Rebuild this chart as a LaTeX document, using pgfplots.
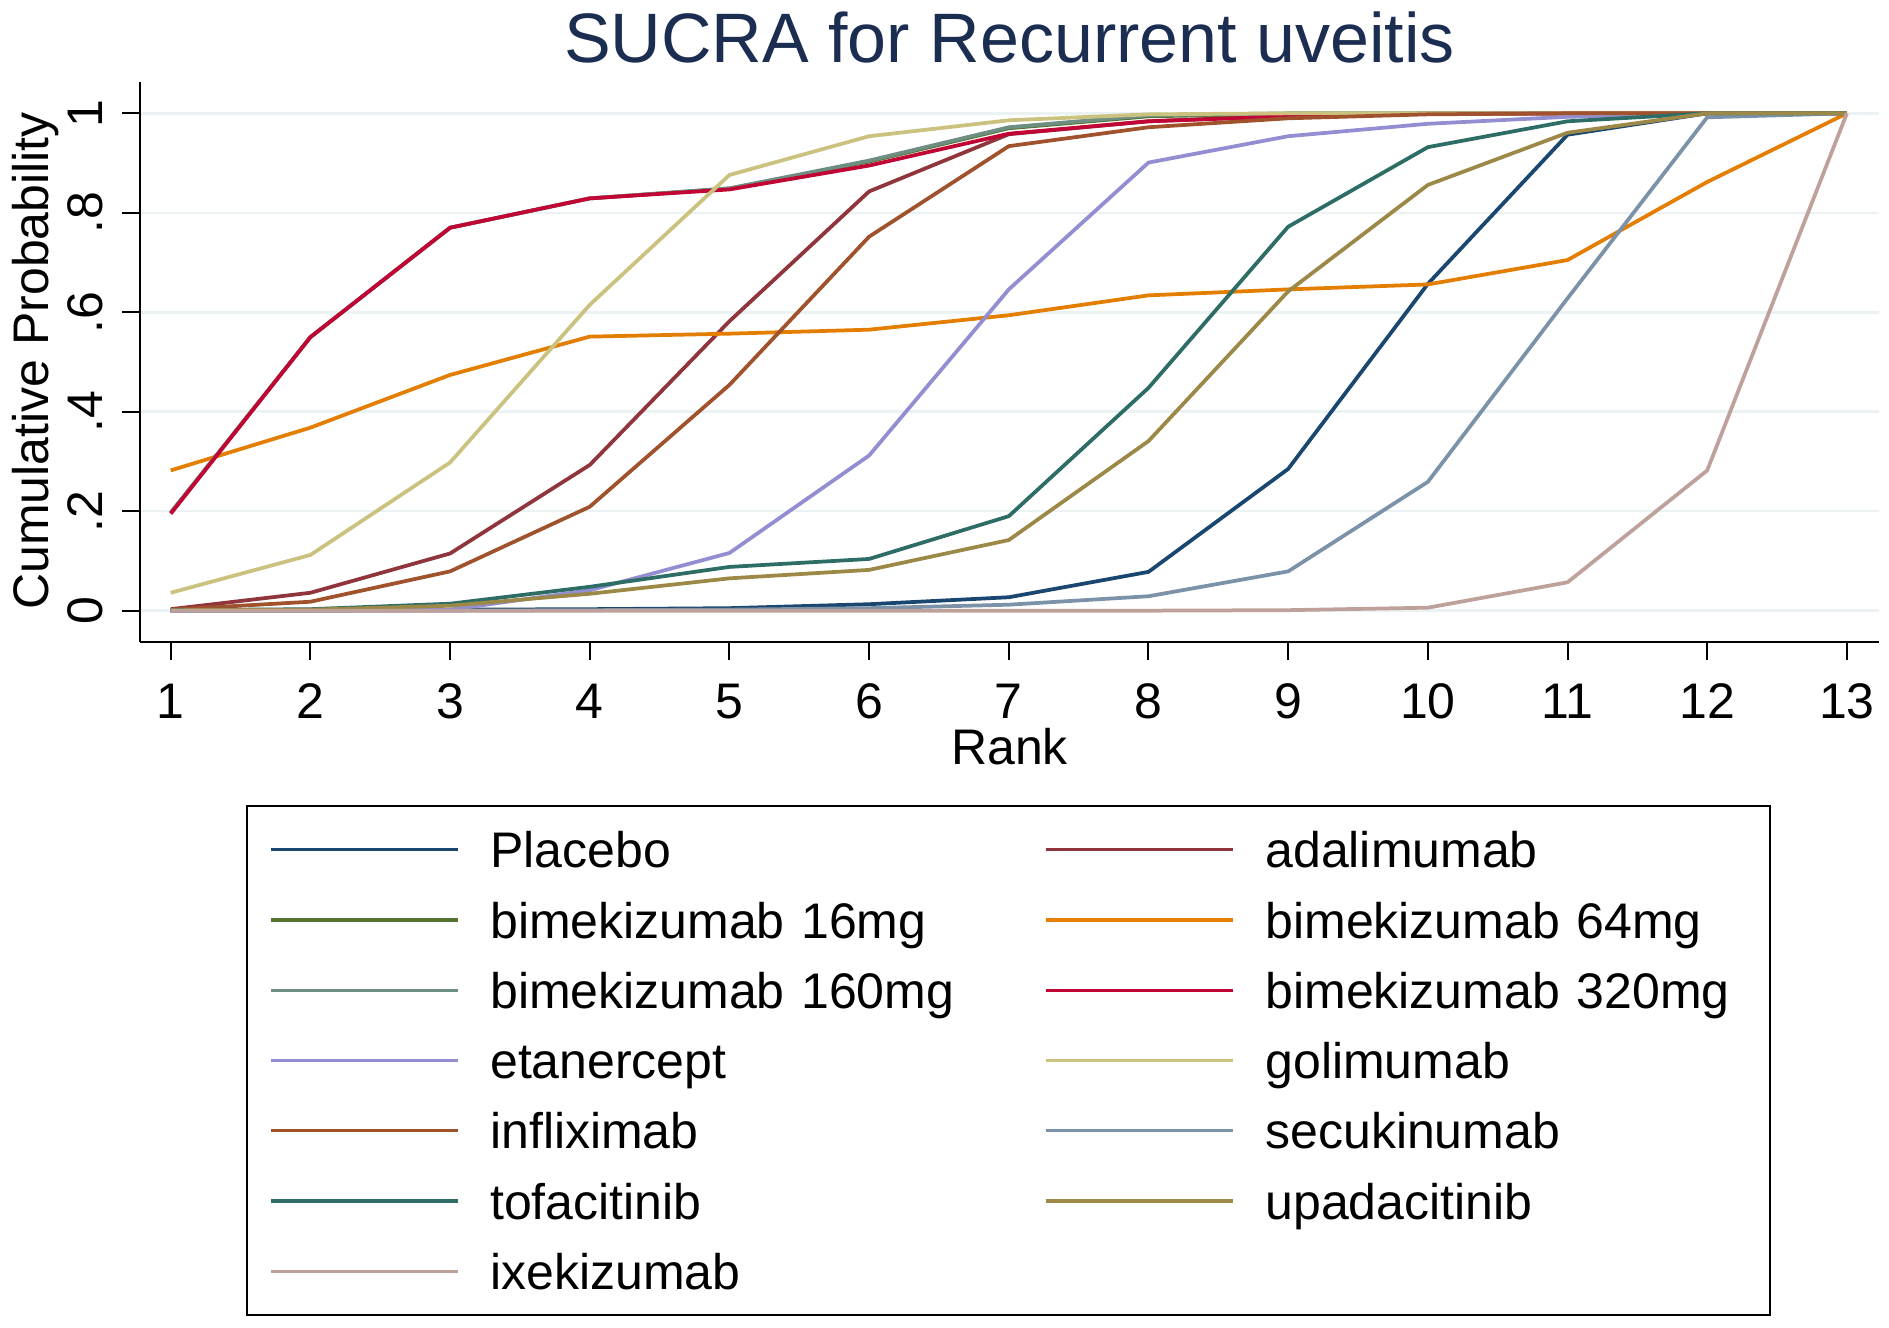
\documentclass[border=0pt]{standalone}
\usepackage{fontspec}
\setmainfont{Liberation Sans}
\usepackage{pgfplots}
\pgfplotsset{compat=1.18}
\definecolor{cnavy}{RGB}{26,71,111}
\definecolor{cmaroon}{RGB}{144,53,59}
\definecolor{cforest}{RGB}{85,117,47}
\definecolor{cdkorange}{RGB}{227,126,0}
\definecolor{cteal}{RGB}{110,142,132}
\definecolor{ccranberry}{RGB}{193,5,52}
\definecolor{clavender}{RGB}{147,141,210}
\definecolor{ckhaki}{RGB}{202,194,126}
\definecolor{csienna}{RGB}{160,82,45}
\definecolor{cemidblue}{RGB}{123,146,168}
\definecolor{cemerald}{RGB}{45,109,102}
\definecolor{cbrown}{RGB}{156,136,71}
\definecolor{cerose}{RGB}{191,161,156}
\definecolor{gridc}{RGB}{234,242,243}
\definecolor{titlec}{RGB}{28,45,82}
\begin{document}
\begin{tikzpicture}
\path[use as bounding box] (0,0) rectangle (755.6pt,530.8pt);
\begin{axis}[
  at={(56pt,274pt)}, anchor=south west,
  scale only axis, width=695.6pt, height=224pt,
  xmin=0.78, xmax=13.23, ymin=-0.063, ymax=1.063,
  axis x line*=bottom, axis y line*=left,
  axis line style={line width=0.8pt, black},
  xtick={1,...,13}, ytick={0,0.2,0.4,0.6,0.8,1},
  yticklabels={0,.2,.4,.6,.8,1},
  tick align=outside, major tick length=7.2pt,
  tick style={line width=0.8pt, black},
  ymajorgrids, grid style={line width=1pt, gridc},
  /pgf/number format/assume math mode=true,
  ticklabel style={font=\fontsize{20}{24}\selectfont},
  xticklabel style={anchor=base, inner sep=0pt, yshift=-23.2pt},
  yticklabel style={rotate=90, anchor=base, inner sep=0pt, yshift=8pt},
  xlabel={Rank}, ylabel={Cumulative Probability},
  label style={font=\fontsize{20}{24}\selectfont},
  xlabel style={at={(axis description cs:0.5,-0.2196)}, anchor=base, inner sep=0pt},
  ylabel style={at={(axis description cs:-0.0529,0.502)}, anchor=base, inner sep=0pt},
  title={SUCRA for Recurrent uveitis},
  title style={at={(axis description cs:0.5,1.0087)}, anchor=base, inner sep=0pt, font=\fontsize{28}{34}\selectfont, text=titlec},
  every axis plot/.append style={line width=1.5pt, no markers},
  legend columns=2,
  legend cell align=left,
  legend image code/.code={\draw[#1, line width=1.3pt] (0pt,0pt) -- (74.8pt,0pt);},
  legend style={at={(axis description cs:0.4994,-0.291)}, anchor=north,
    draw=black, line width=0.8pt, inner xsep=8.8pt, inner ysep=3.5pt,
    font=\fontsize{20}{24}\selectfont,
    nodes={text width=193pt, text height=18.4pt, text depth=4pt, inner ysep=2.85pt, inner xsep=0pt},
    /tikz/every odd column/.append style={column sep=12.4pt},
    /tikz/every even column/.append style={column sep=28.6pt}},
]
\addplot[cnavy] coordinates {(1,0)(2,0)(3,0.002)(4,0.003)(5,0.005)(6,0.013)(7,0.027)(8,0.078)(9,0.285)(10,0.657)(11,0.957)(12,1)(13,1)};
\addlegendentry{Placebo}
\addplot[cmaroon] coordinates {(1,0.003)(2,0.036)(3,0.115)(4,0.293)(5,0.582)(6,0.843)(7,0.958)(8,0.984)(9,0.995)(10,0.999)(11,1)(12,1)(13,1)};
\addlegendentry{adalimumab}
\addplot[cforest] coordinates {(1,0.197)(2,0.55)(3,0.77)(4,0.829)(5,0.849)(6,0.903)(7,0.97)(8,0.994)(9,0.999)(10,1)(11,1)(12,1)(13,1)};
\addlegendentry{bimekizumab 16mg}
\addplot[cdkorange] coordinates {(1,0.282)(2,0.368)(3,0.474)(4,0.551)(5,0.557)(6,0.565)(7,0.594)(8,0.634)(9,0.646)(10,0.656)(11,0.705)(12,0.862)(13,1)};
\addlegendentry{bimekizumab 64mg}
\addplot[cteal] coordinates {(1,0.197)(2,0.55)(3,0.77)(4,0.829)(5,0.849)(6,0.905)(7,0.972)(8,0.996)(9,1)(10,1)(11,1)(12,1)(13,1)};
\addlegendentry{bimekizumab 160mg}
\addplot[ccranberry] coordinates {(1,0.195)(2,0.55)(3,0.77)(4,0.829)(5,0.847)(6,0.895)(7,0.959)(8,0.984)(9,0.994)(10,0.999)(11,1)(12,1)(13,1)};
\addlegendentry{bimekizumab 320mg}
\addplot[clavender] coordinates {(1,0)(2,0)(3,0.002)(4,0.041)(5,0.116)(6,0.312)(7,0.646)(8,0.901)(9,0.954)(10,0.979)(11,0.993)(12,1)(13,1)};
\addlegendentry{etanercept}
\addplot[ckhaki] coordinates {(1,0.036)(2,0.112)(3,0.298)(4,0.615)(5,0.876)(6,0.954)(7,0.986)(8,0.998)(9,1)(10,1)(11,1)(12,1)(13,1)};
\addlegendentry{golimumab}
\addplot[csienna] coordinates {(1,0.002)(2,0.018)(3,0.079)(4,0.209)(5,0.454)(6,0.752)(7,0.934)(8,0.972)(9,0.99)(10,0.998)(11,1)(12,1)(13,1)};
\addlegendentry{infliximab}
\addplot[cemidblue] coordinates {(1,0)(2,0)(3,0)(4,0.001)(5,0.002)(6,0.005)(7,0.012)(8,0.029)(9,0.079)(10,0.259)(11,0.628)(12,0.992)(13,1)};
\addlegendentry{secukinumab}
\addplot[cemerald] coordinates {(1,0.001)(2,0.003)(3,0.014)(4,0.048)(5,0.088)(6,0.104)(7,0.19)(8,0.448)(9,0.772)(10,0.932)(11,0.984)(12,1)(13,1)};
\addlegendentry{tofacitinib}
\addplot[cbrown] coordinates {(1,0.001)(2,0.002)(3,0.01)(4,0.034)(5,0.065)(6,0.082)(7,0.142)(8,0.341)(9,0.642)(10,0.856)(11,0.961)(12,1)(13,1)};
\addlegendentry{upadacitinib}
\addplot[cerose] coordinates {(1,0)(2,0)(3,0)(4,0)(5,0)(6,0)(7,0)(8,0)(9,0.001)(10,0.006)(11,0.057)(12,0.282)(13,1)};
\addlegendentry{ixekizumab}
\end{axis}
\end{tikzpicture}
\end{document}
